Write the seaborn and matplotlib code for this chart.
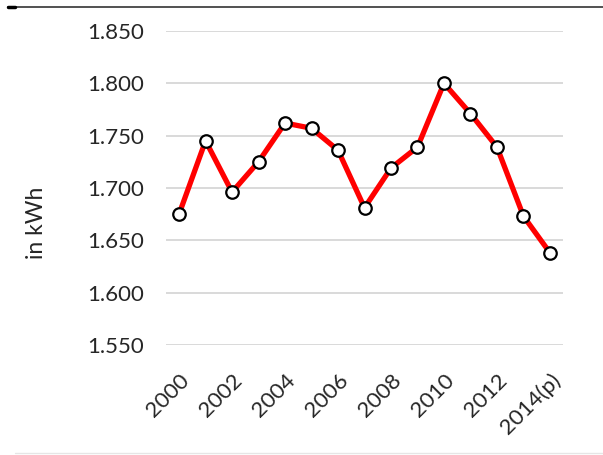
import matplotlib
matplotlib.use("Agg")
import matplotlib.pyplot as plt
from matplotlib.lines import Line2D
from matplotlib.transforms import ScaledTranslation
import seaborn as sns
import pandas as pd

# Annual electricity consumption (kWh)
years = ["2000", "2001", "2002", "2003", "2004", "2005", "2006", "2007",
         "2008", "2009", "2010", "2011", "2012", "2013", "2014(p)"]
consumption = [1675, 1745, 1696, 1725, 1762, 1757, 1736, 1681,
               1719, 1739, 1800, 1771, 1739, 1673, 1638]
y_ticks = [1550, 1600, 1650, 1700, 1750, 1800, 1850]

df = pd.DataFrame({"idx": range(len(years)), "year": years, "kwh": consumption})

sns.set_theme(style="white")
plt.rcParams["font.family"] = ["Lato", "DejaVu Sans"]

fig = plt.figure(figsize=(6.03, 4.55), dpi=100)
ax = fig.add_axes([0.275, 0.242, 0.659, 0.690])

sns.lineplot(data=df, x="idx", y="kwh", ax=ax, color="#ff0000", linewidth=3.8,
             marker="o", markersize=9, markerfacecolor="white",
             markeredgecolor="black", markeredgewidth=1.6, zorder=3)

ax.set_xlim(-0.5, len(years) - 0.5)
ax.set_ylim(y_ticks[0], y_ticks[-1])
ax.set_yticks(y_ticks)
ax.set_yticklabels([f"{v:,}".replace(",", ".") for v in y_ticks])
ax.yaxis.grid(True, color="#d9d9d9", linewidth=1.4)
ax.xaxis.grid(False)
for s in ax.spines.values():
    s.set_visible(False)

shown = list(range(0, len(years), 2))
ax.set_xticks(shown)
ax.set_xticklabels([years[i] for i in shown], rotation=45, ha="right",
                   rotation_mode="anchor")
offset = ScaledTranslation(-11 / 100, 0, fig.dpi_scale_trans)
for lbl in ax.get_xticklabels():
    lbl.set_transform(lbl.get_transform() + offset)

ax.tick_params(axis="y", length=0, pad=16, labelsize=16, labelcolor="#262626")
ax.tick_params(axis="x", length=0, pad=18, labelsize=16, labelcolor="#262626")
ax.set_xlabel("")
ax.set_ylabel("in kWh", fontsize=16.5, color="#262626")
ax.yaxis.set_label_coords(-0.298, 0.389)

# frame lines of the figure
fig.add_artist(Line2D([8 / 603, 1.0], [1 - 7 / 455] * 2, color="#333333",
                      linewidth=1.2, transform=fig.transFigure))
fig.add_artist(Line2D([8 / 603, 15 / 603], [1 - 7 / 455] * 2, color="black",
                      linewidth=2.5, transform=fig.transFigure))
fig.add_artist(Line2D([15 / 603, 1.0], [1 - 453 / 455] * 2, color="#e6e6e6",
                      linewidth=1.0, transform=fig.transFigure))

fig.savefig("out.png", dpi=100)
